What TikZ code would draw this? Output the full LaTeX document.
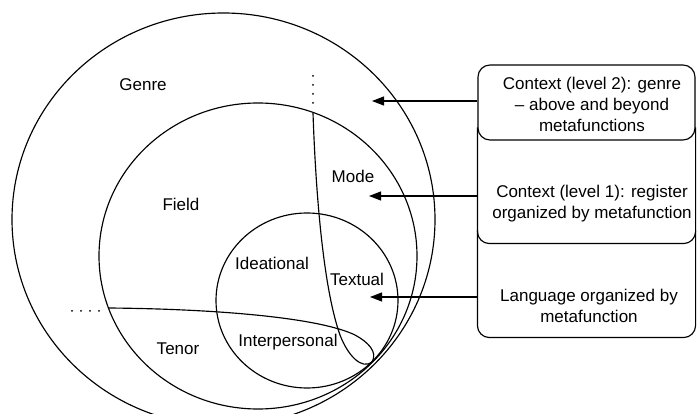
\documentclass[tikz,border=0pt]{standalone}
\usepackage{fontspec}
\setmainfont{Liberation Sans}
\usetikzlibrary{arrows.meta}
\begin{document}
\begin{tikzpicture}[x=1pt,y=-1pt, line width=1.15pt,
  lbl/.style={font=\fontsize{17}{20}\selectfont, inner sep=0pt},
  boxtxt/.style={font=\fontsize{17}{21}\selectfont, align=center, inner sep=0pt},
  boxshape/.style={minimum width=217pt, inner sep=0pt},
  arr/.style={-{Triangle[length=12pt,width=9pt]}},
  dotline/.style={line width=2pt, line cap=round, dash pattern=on 0pt off 9pt}]
\useasboundingbox (0,0) rectangle (697,414);
\clip (0,0) rectangle (697,414);
% circles
\draw (223.5,219.5) ellipse [x radius=211.5pt, y radius=206.5pt];
\draw (258,256) ellipse [x radius=159pt, y radius=153pt];
\draw (307,300.5) ellipse [x radius=91pt, y radius=87.5pt];
% dividing curves
\coordinate (T) at (372,362);
\coordinate (m0) at (313,113);
\coordinate (h0) at (108.5,308);
\draw (m0) .. controls (316,200) and (324,290) .. (340,335) .. controls (348,356) and (362,370) .. (T);
\draw (h0) .. controls (220,309) and (320,318) .. (355,335) .. controls (368,342) and (378,352) .. (T);
% dotted extensions
\coordinate (d1) at (313,76);
\coordinate (d2) at (72,311);
\draw[dotline] (d1) -- (313,103);
\draw[dotline] (d2) -- (102,311);
% labels
\node[lbl] (genre) at (143,85) {Genre};
\node[lbl] (field) at (181,204) {Field};
\node[lbl] (mode) at (353,176) {Mode};
\node[lbl] (ideat) at (272,263) {Ideational};
\node[lbl] (textual) at (357,279) {Textual};
\node[lbl] (interp) at (288,342) {Interpersonal};
\node[lbl] (tenor) at (178,349) {Tenor};
% boxes
\node[boxshape, draw, rounded corners=12pt, minimum height=75pt] (box1) at (586.5,102.5) {};
\node[boxshape, minimum height=103pt] (box2) at (586.5,191.5) {};
\node[boxshape, minimum height=94pt] (box3) at (586.5,290) {};
\draw[rounded corners=12pt] ([yshift=12pt]box2.north west) -- (box2.south west) -- (box2.south east) -- ([yshift=12pt]box2.north east);
\draw[rounded corners=12pt] ([yshift=12pt]box3.north west) -- (box3.south west) -- (box3.south east) -- ([yshift=12pt]box3.north east);
\node[boxtxt] (t1) at (592,104) {Context (level 2): genre\\-- above and beyond\\metafunctions};
\node[boxtxt] (t2) at (592,204) {Context (level 1): register\\organized by metafunction};
\node[boxtxt] (t3) at (589,306) {Language organized by\\metafunction};
% arrows
\coordinate (p1) at (372,101);
\coordinate (p2) at (369,196);
\coordinate (p3) at (370,297);
\draw[arr] (p1 -| box1.west) -- (p1);
\draw[arr] (p2 -| box2.west) -- (p2);
\draw[arr] (p3 -| box3.west) -- (p3);
\end{tikzpicture}
\end{document}
